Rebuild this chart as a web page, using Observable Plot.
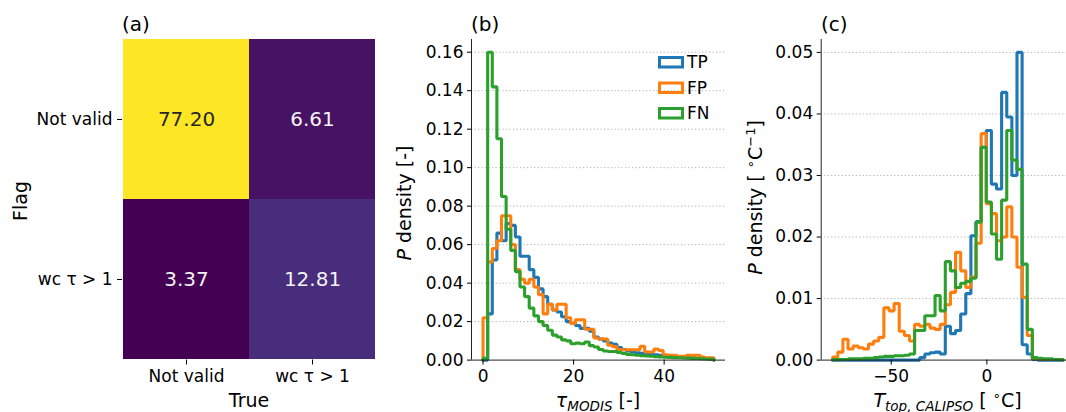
<!DOCTYPE html>
<html><head><meta charset="utf-8">
<script src="https://cdn.jsdelivr.net/npm/d3@7"></script>
<script src="https://cdn.jsdelivr.net/npm/@observablehq/plot@0.6"></script>
<style>
body{margin:0;background:#fff;}
#fig{position:relative;width:1066px;height:412px;overflow:hidden;font-family:"DejaVu Sans",sans-serif;color:#000;background:#fff;}
#fig > svg{position:absolute;top:0;}
</style></head><body><div id="fig"></div>
<script>
// ---------- data ----------
const trueLabels = ["Not valid", "wc τ > 1"];
const flagLabels = ["Not valid", "wc τ > 1"];
const confusionRow0 = [77.20, 6.61];
const confusionRow1 = [3.37, 12.81];

const seriesNames = ["TP", "FP", "FN"];
const seriesColors = ["#1f77b4", "#ff7f0e", "#2ca02c"];

// (b) optical thickness histogram (density per bin)
const tauBinStart = 0, tauBinWidth = 1.02;
const tauTP = [0.000, 0.024, 0.052, 0.066, 0.062, 0.071, 0.070, 0.064, 0.054, 0.054, 0.047, 0.043, 0.037, 0.033, 0.029, 0.026, 0.025, 0.0225, 0.020, 0.019, 0.018, 0.0165, 0.0165, 0.015, 0.012, 0.011, 0.010, 0.0089, 0.0082, 0.0065, 0.0055, 0.0048, 0.0042, 0.0038, 0.0035, 0.0032, 0.003, 0.0028, 0.0025, 0.0022, 0.002, 0.0018, 0.0017, 0.0015, 0.0014, 0.0012, 0.001, 0.0009, 0.0008, 0.0006];
const tauFP = [0.022, 0.051, 0.058, 0.062, 0.075, 0.075, 0.060, 0.047, 0.042, 0.040, 0.042, 0.038, 0.034, 0.024, 0.029, 0.026, 0.029, 0.029, 0.022, 0.019, 0.021, 0.021, 0.016, 0.016, 0.0115, 0.011, 0.011, 0.0077, 0.007, 0.0054, 0.0054, 0.0054, 0.0054, 0.0054, 0.0072, 0.0042, 0.0042, 0.0058, 0.005, 0.0028, 0.0025, 0.0025, 0.002, 0.002, 0.0025, 0.0025, 0.0025, 0.0016, 0.0012, 0.0012];
const tauFN = [0.001, 0.160, 0.142, 0.115, 0.085, 0.068, 0.057, 0.046, 0.038, 0.033, 0.027, 0.023, 0.020, 0.018, 0.0155, 0.013, 0.012, 0.0105, 0.010, 0.0085, 0.0088, 0.0085, 0.0094, 0.0075, 0.0068, 0.0055, 0.0047, 0.0045, 0.0045, 0.004, 0.0035, 0.003, 0.0028, 0.0025, 0.0023, 0.0021, 0.002, 0.0018, 0.0016, 0.0015, 0.0014, 0.0013, 0.0012, 0.0011, 0.001, 0.0009, 0.0008, 0.0007, 0.0006, 0.0005];
const tauXTicks = [0, 20, 40];
const tauYTicks = [0, 0.02, 0.04, 0.06, 0.08, 0.10, 0.12, 0.14, 0.16];

// (c) cloud-top temperature histogram (density per °C)
const tempBinStart = -80.6, tempBinWidth = 2.676;
const tempTP = [0, 0, 0, 0, 0, 0, 0, 0, 0, 0, 0, 0, 0, 0, 0, 0, 0, 0.0004, 0.001, 0.0012, 0.0013, 0.001, 0.0055, 0.0043, 0.0048, 0.0075, 0.0108, 0.0202, 0.0225, 0.0346, 0.0373, 0.0286, 0.0278, 0.0435, 0.0395, 0.030, 0.050, 0.0025, 0.001, 0.0001, 0, 0, 0, 0, 0];
const tempFP = [0.0005, 0.0013, 0.0034, 0.0018, 0.0023, 0.0020, 0.0018, 0.0026, 0.0031, 0.0037, 0.0085, 0.008, 0.0092, 0.0047, 0.004, 0.0031, 0.0058, 0.0055, 0.0058, 0.0052, 0.005, 0.0058, 0.009, 0.011, 0.0175, 0.0145, 0.0118, 0.0135, 0.019, 0.0368, 0.0254, 0.0238, 0.0194, 0.020, 0.0249, 0.020, 0.0151, 0.0102, 0.004, 0.0003, 0.0002, 0.0001, 0.0001, 0.0001, 0.0001];
const tempFN = [0.0001, 0.0001, 0.0001, 0.0002, 0.0002, 0.0002, 0.0003, 0.0003, 0.0004, 0.0005, 0.0006, 0.0006, 0.0007, 0.0007, 0.0008, 0.001, 0.0048, 0.0048, 0.0072, 0.0072, 0.0105, 0.008, 0.016, 0.0145, 0.0118, 0.0125, 0.0128, 0.0133, 0.0224, 0.0346, 0.0257, 0.0205, 0.0164, 0.026, 0.0373, 0.0325, 0.031, 0.0156, 0.005, 0.0004, 0.0003, 0.0002, 0.0002, 0.0001, 0.0001];
const tempXTicks = [-50, 0];
const tempYTicks = [0, 0.01, 0.02, 0.03, 0.04, 0.05];

// ---------- helpers ----------
const FONT = "DejaVu Sans";
function stepData(values, start, width, name) {
  const pts = [{x: start, y: 0, s: name}];
  values.forEach((v, i) => pts.push({x: start + i * width, y: v, s: name}));
  pts.push({x: start + values.length * width, y: 0, s: name});
  return pts;
}
const baseStyle = {fontFamily: FONT, fontSize: "17px", background: "transparent", color: "#000", overflow: "visible"};
const fig = document.getElementById("fig");
function place(svg, left) { svg.style.left = left + "px"; fig.appendChild(svg); }
const LW = 3.1;

// ---------- (a) confusion matrix ----------
const confusion = [confusionRow0, confusionRow1];
const cells = [];
flagLabels.forEach((f, i) => trueLabels.forEach((t, j) => cells.push({flag: f, truth: t, value: confusion[i][j]})));
const pa = Plot.plot({
  width: 400, height: 412, marginLeft: 122, marginRight: 24.5, marginTop: 39, marginBottom: 52.5,
  style: baseStyle,
  x: {domain: trueLabels, padding: 0, label: null},
  y: {domain: flagLabels, padding: 0, label: null},
  color: {type: "linear", scheme: "viridis", domain: [3.37, 77.20]},
  marks: [
    Plot.cell(cells, {x: "truth", y: "flag", fill: "value", inset: 0}),
    Plot.text(cells.filter(d => d.value > 40), {x: "truth", y: "flag", text: d => d.value.toFixed(2), fill: "#262626", fontSize: 20}),
    Plot.text(cells.filter(d => d.value <= 40), {x: "truth", y: "flag", text: d => d.value.toFixed(2), fill: "#f2f2f2", fontSize: 20}),
    Plot.axisX({tickSize: 5, tickPadding: 5, label: null, fontSize: 17}),
    Plot.axisY({tickSize: 5, tickPadding: 5, label: null, fontSize: 17})
  ]
});
place(pa, 0);

// ---------- (b) tau histogram ----------
const tauData = [
  ...stepData(tauTP, tauBinStart, tauBinWidth, "TP"),
  ...stepData(tauFP, tauBinStart, tauBinWidth, "FP"),
  ...stepData(tauFN, tauBinStart, tauBinWidth, "FN")
];
const tauX = [-2.55, 53.55], tauY = [0, 0.1666];
const pb = Plot.plot({
  width: 360, height: 412, marginLeft: 91, marginRight: 15, marginTop: 39, marginBottom: 52.4,
  style: baseStyle,
  x: {domain: tauX, label: null},
  y: {domain: tauY, label: null},
  color: {domain: seriesNames, range: seriesColors},
  marks: [
    Plot.ruleY(tauYTicks.slice(1), {stroke: "#b0b0b0", strokeWidth: 1, strokeDasharray: "1.2,2.3"}),
    Plot.line(tauData, {x: "x", y: "y", z: "s", stroke: "s", curve: "step-after", strokeWidth: LW, strokeLinejoin: "miter"}),
    Plot.ruleX([tauX[0]], {stroke: "#222", strokeWidth: 1}),
    Plot.ruleY([0], {stroke: "#222", strokeWidth: 1}),
    Plot.axisX({ticks: tauXTicks, tickSize: 5, tickPadding: 5, label: null, fontSize: 17}),
    Plot.axisY({ticks: tauYTicks, tickFormat: ".2f", tickSize: 4, tickPadding: 4, label: null, fontSize: 17})
  ]
});
place(pb, 380);

// ---------- (c) temperature histogram ----------
const tempData = [
  ...stepData(tempTP, tempBinStart, tempBinWidth, "TP"),
  ...stepData(tempFP, tempBinStart, tempBinWidth, "FP"),
  ...stepData(tempFN, tempBinStart, tempBinWidth, "FN")
];
const tempX = [-86.6, 45.8], tempY = [0, 0.0521];
const pc = Plot.plot({
  width: 340, height: 412, marginLeft: 80.7, marginRight: 6, marginTop: 39, marginBottom: 52.4,
  style: baseStyle,
  x: {domain: tempX, label: null},
  y: {domain: tempY, label: null},
  color: {domain: seriesNames, range: seriesColors},
  marks: [
    Plot.ruleY(tempYTicks.slice(1), {stroke: "#b0b0b0", strokeWidth: 1, strokeDasharray: "1.2,2.3"}),
    Plot.line(tempData, {x: "x", y: "y", z: "s", stroke: "s", curve: "step-after", strokeWidth: LW, strokeLinejoin: "miter"}),
    Plot.ruleX([tempX[0]], {stroke: "#222", strokeWidth: 1}),
    Plot.ruleY([0], {stroke: "#222", strokeWidth: 1}),
    Plot.axisX({ticks: tempXTicks, tickSize: 5, tickPadding: 5, label: null, fontSize: 17}),
    Plot.axisY({ticks: tempYTicks, tickFormat: ".2f", tickSize: 4, tickPadding: 4, label: null, fontSize: 17})
  ]
});
place(pc, 740);

// ---------- overlay: titles, axis labels, legend ----------
const ov = d3.select(fig).append("svg")
  .attr("width", 1066).attr("height", 412)
  .style("left", "0px").style("pointer-events", "none")
  .attr("font-family", FONT).attr("fill", "#000");

[["(a)", 122], ["(b)", 471], ["(c)", 821]].forEach(([t, x]) =>
  ov.append("text").attr("x", x).attr("y", 31).attr("font-size", 20).text(t));

ov.append("text").attr("transform", "translate(27,201) rotate(-90)").attr("text-anchor", "middle").attr("font-size", 19).text("Flag");
ov.append("text").attr("x", 249).attr("y", 407).attr("text-anchor", "middle").attr("font-size", 19).text("True");

// (b) labels
const byl = ov.append("text").attr("transform", "translate(411,203) rotate(-90)").attr("text-anchor", "middle").attr("font-size", 19);
byl.append("tspan").attr("font-style", "italic").text("P");
byl.append("tspan").text(" density [-]");
const bxl = ov.append("text").attr("x", 598).attr("y", 407).attr("text-anchor", "middle").attr("font-size", 19);
bxl.append("tspan").attr("font-style", "italic").text("τ");
bxl.append("tspan").attr("font-style", "italic").attr("font-size", 13.5).attr("dy", 3.5).text("MODIS");
bxl.append("tspan").attr("dy", -3.5).text(" [-]");

// (c) labels
const cyl = ov.append("text").attr("transform", "translate(761.5,197.5) rotate(-90)").attr("text-anchor", "middle").attr("font-size", 19);
cyl.append("tspan").attr("font-style", "italic").text("P");
cyl.append("tspan").text(" density [ ");
cyl.append("tspan").attr("font-size", 13).attr("dy", -7).text("∘");
cyl.append("tspan").attr("dy", 7).text("C");
cyl.append("tspan").attr("font-size", 13).attr("dy", -7).text("−1");
cyl.append("tspan").attr("dy", 7).text("]");
const cxl = ov.append("text").attr("x", 947.5).attr("y", 407).attr("text-anchor", "middle").attr("font-size", 19);
cxl.append("tspan").attr("font-style", "italic").text("T");
cxl.append("tspan").attr("font-style", "italic").attr("font-size", 13.5).attr("dy", 3.5).text("top, CALIPSO");
cxl.append("tspan").attr("dy", -3.5).text(" [ ");
cxl.append("tspan").attr("font-size", 13).attr("dy", -7).text("∘");
cxl.append("tspan").attr("dy", 7).text("C]");

// legend (b)
seriesNames.forEach((name, i) => {
  const y0 = 57.5 + i * 25.5;
  ov.append("rect").attr("x", 659.5).attr("y", y0).attr("width", 23).attr("height", 9.5)
    .attr("fill", "none").attr("stroke", seriesColors[i]).attr("stroke-width", 3);
  ov.append("text").attr("x", 687).attr("y", y0 + 10.5).attr("font-size", 17).text(name);
});
</script>
</body></html>
